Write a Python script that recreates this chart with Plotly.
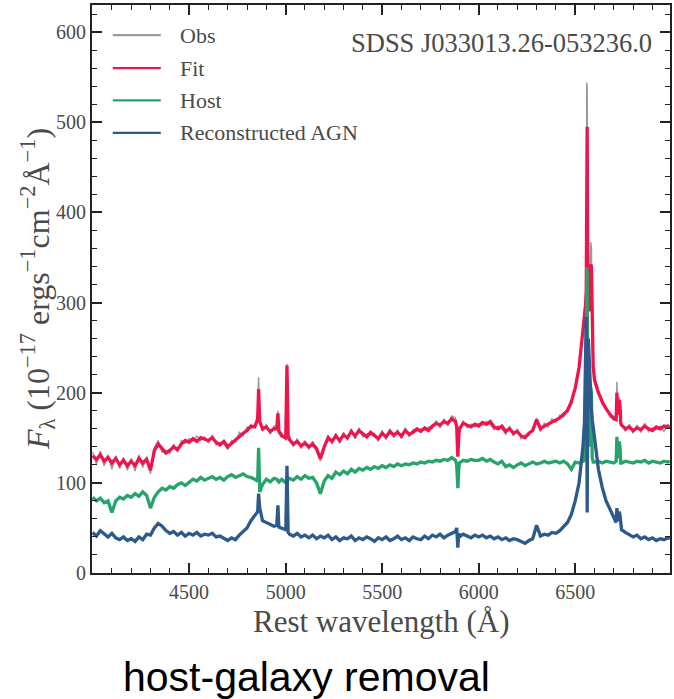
import plotly.graph_objects as go

# Sampled rest-frame spectrum of SDSS J033013.26-053236.0 (flux in 1e-17 erg/s/cm^2/A)
# Continuum grid: 4000-6980 A every 20 A (15 rows x 10 samples)
GRID_START, GRID_STOP, GRID_STEP = 4000, 7000, 20

# Extra samples around narrow emission/absorption features + red end
LINE_WAVE = [4855, 4866, 4954, 4965, 5001, 5007, 5013, 5886, 5892, 5897,
             6548, 6554, 6557, 6562, 6565, 6568, 6573, 6577, 6584, 6588, 6593,
             6712, 6716, 6724, 6728, 6732, 6736, 6990]

obs_grid = [
    134, 121, 135, 119, 131, 115, 130, 116, 128, 114,
    127, 113, 131, 117, 129, 110, 139, 147, 134, 136,
    133, 143, 134, 147, 144, 149, 146, 152, 147, 151,
    144, 153, 142, 145, 143, 137, 147, 145, 156, 152,
    162, 160, 164, 217, 157, 165, 154, 163, 180, 155,
    147, 151, 140, 149, 138, 147, 137, 146, 135, 124,
    137, 153, 143, 155, 144, 156, 147, 160, 149, 161,
    151, 154, 153, 155, 146, 158, 148, 160, 150, 159,
    149, 161, 151, 159, 157, 160, 158, 162, 160, 169,
    161, 171, 163, 174, 172, 157, 169, 161, 165, 162,
    166, 164, 168, 165, 159, 163, 160, 154, 163, 152,
    160, 149, 153, 152, 161, 172, 157, 166, 162, 171,
    167, 175, 173, 183, 187, 208, 225, 272, 544, 367,
    217, 203, 187, 185, 173, 174, 178, 165, 157, 165,
    155, 164, 156, 166, 157, 161, 159, 163, 157, 165,
]
obs_line = [175, 170, 163, 159, 157, 232, 150, 165, 131, 152,
            290, 303, 318, 538, 335, 305, 294, 350, 360, 256, 234,
            172, 212, 181, 195, 190, 168, 160]

fit_grid = [
    130, 126, 131, 124, 128, 122, 127, 120, 125, 119,
    124, 119, 127, 122, 126, 114, 136, 143, 138, 133,
    136, 140, 137, 143, 147, 145, 149, 146, 150, 148,
    147, 150, 145, 142, 146, 140, 144, 148, 152, 155,
    158, 163, 162, 204, 160, 162, 157, 160, 177, 152,
    150, 148, 143, 146, 141, 144, 140, 143, 138, 127,
    140, 150, 146, 152, 147, 153, 150, 157, 152, 158,
    154, 151, 156, 152, 149, 155, 151, 157, 153, 156,
    152, 158, 154, 156, 160, 157, 161, 158, 163, 166,
    164, 168, 166, 171, 168, 160, 166, 164, 162, 165,
    163, 167, 165, 168, 162, 160, 163, 157, 160, 155,
    157, 152, 150, 155, 158, 170, 160, 163, 165, 168,
    170, 172, 176, 180, 190, 205, 228, 268, 495, 342,
    214, 200, 190, 182, 176, 171, 176, 164, 160, 162,
    158, 161, 159, 163, 160, 158, 162, 160, 163, 162,
]
fit_line = [170, 168, 160, 157, 155, 230, 152, 162, 129, 150,
            285, 298, 312, 495, 330, 300, 290, 340, 340, 250, 230,
            170, 200, 180, 192, 186, 166, 163]

host_grid = [
    84, 80, 83, 78, 80, 67, 80, 84, 82, 86,
    84, 88, 85, 90, 86, 72, 84, 90, 94, 92,
    96, 94, 98, 100, 97, 101, 104, 102, 106, 103,
    105, 107, 104, 106, 103, 107, 109, 106, 108, 110,
    107, 106, 104, 139, 98, 104, 101, 105, 102, 104,
    100, 105, 103, 107, 104, 108, 105, 106, 100, 88,
    102, 108, 105, 112, 109, 113, 110, 115, 112, 116,
    114, 117, 115, 118, 116, 119, 117, 120, 118, 121,
    119, 121, 120, 122, 121, 123, 122, 124, 123, 125,
    124, 126, 125, 128, 125, 122, 125, 124, 126, 125,
    125, 127, 124, 126, 123, 121, 124, 118, 120, 117,
    120, 122, 119, 121, 123, 121, 122, 124, 122, 123,
    124, 122, 124, 121, 115, 123, 122, 124, 339, 206,
    123, 124, 122, 124, 123, 122, 128, 122, 124, 123,
    122, 124, 123, 125, 122, 124, 123, 122, 124, 123,
]
host_line = [102, 90, 104, 101, 101, 100, 104, 120, 94, 115,
             125, 150, 135, 330, 190, 150, 140, 165, 200, 128, 123,
             124, 151, 130, 146, 140, 122, 124]

agn_grid = [
    45, 41, 47, 43, 40, 44, 39, 37, 40, 36,
    38, 35, 40, 37, 43, 42, 50, 55, 52, 47,
    44, 46, 42, 45, 41, 44, 42, 45, 41, 43,
    42, 44, 40, 41, 38, 36, 39, 37, 42, 46,
    50, 58, 64, 88, 58, 56, 55, 52, 75, 50,
    48, 43, 41, 44, 40, 42, 39, 42, 38, 41,
    39, 42, 37, 40, 36, 39, 38, 41, 36, 39,
    37, 40, 38, 35, 39, 37, 40, 36, 38, 41,
    37, 39, 36, 40, 38, 37, 41, 38, 42, 40,
    43, 39, 42, 44, 46, 40, 43, 41, 39, 42,
    40, 42, 39, 41, 38, 40, 37, 39, 36, 38,
    37, 35, 33, 36, 38, 53, 41, 43, 42, 45,
    44, 47, 52, 56, 65, 80, 100, 140, 180, 195,
    150, 115, 95, 80, 70, 62, 58, 48, 45, 42,
    40, 42, 38, 40, 37, 39, 36, 38, 37, 39,
]
agn_line = [68, 72, 53, 51, 50, 119, 45, 50, 28, 44,
            168, 230, 284, 67, 200, 260, 235, 205, 180, 170, 160,
            56, 72, 60, 68, 64, 50, 38]

SERIES_NAMES = ["Obs", "Fit", "Host", "Reconstructed AGN"]
SERIES_COLORS = ["#9a9a9a", "#f0144c", "#27a36c", "#2c5a8c"]
SERIES_WIDTHS = [1.5, 3.3, 3.3, 3.3]

X_TICKS = [4500, 5000, 5500, 6000, 6500]
Y_TICKS = [0, 100, 200, 300, 400, 500, 600]
OBJECT_NAME = "SDSS J033013.26-053236.0"


def build(grid_vals, line_vals):
    wave = list(range(GRID_START, GRID_STOP, GRID_STEP)) + LINE_WAVE
    flux = list(grid_vals) + list(line_vals)
    assert len(wave) == len(flux)
    pairs = sorted(zip(wave, flux))
    return [p[0] for p in pairs], [p[1] for p in pairs]


series = [build(obs_grid, obs_line), build(fit_grid, fit_line),
          build(host_grid, host_line), build(agn_grid, agn_line)]

SERIF = "Liberation Serif, Times New Roman, serif"
LABEL_COLOR = "#4a4a4a"
FRAME = "#222222"

fig = go.Figure()
for (w, f), name, col, lw in zip(series, SERIES_NAMES, SERIES_COLORS, SERIES_WIDTHS):
    fig.add_trace(go.Scatter(x=w, y=f, mode="lines", name=name,
                             line=dict(color=col, width=lw), showlegend=False))

axis_common = dict(showgrid=False, zeroline=False, showline=True, linecolor=FRAME,
                   linewidth=2, mirror="allticks", ticks="inside", ticklen=10,
                   tickwidth=1.6, tickcolor=FRAME,
                   tickfont=dict(family=SERIF, size=20, color=LABEL_COLOR))

fig.update_layout(
    width=674, height=699,
    margin=dict(l=92, r=2, t=5, b=126),
    paper_bgcolor="white", plot_bgcolor="white",
    xaxis=dict(range=[3997, 6991], tickvals=X_TICKS,
               minor=dict(tick0=4000, dtick=100, ticks="inside", ticklen=5,
                          tickwidth=1.4, tickcolor=FRAME),
               **axis_common),
    yaxis=dict(range=[0, 630], tickvals=Y_TICKS,
               minor=dict(tick0=0, dtick=20, ticks="inside", ticklen=5,
                          tickwidth=1.4, tickcolor=FRAME),
               **axis_common),
)

# Hand-placed legend (long line samples, no frame)
legend_rows = [0.947, 0.889, 0.832, 0.775]
for name, col, yy in zip(SERIES_NAMES, SERIES_COLORS, legend_rows):
    fig.add_shape(type="line", xref="paper", yref="paper",
                  x0=0.036, x1=0.119, y0=yy, y1=yy,
                  line=dict(color=col, width=2.2))
    fig.add_annotation(xref="paper", yref="paper", x=0.148, y=yy,
                       xanchor="left", yanchor="middle", showarrow=False,
                       text=name, font=dict(family=SERIF, size=22, color=LABEL_COLOR))

fig.add_annotation(xref="paper", yref="paper", x=0.972, y=0.933,
                   xanchor="right", yanchor="middle", showarrow=False,
                   text=OBJECT_NAME, font=dict(family=SERIF, size=26.5, color=LABEL_COLOR))

# Axis titles
fig.add_annotation(xref="paper", yref="paper", x=0.5, y=-0.086,
                   xanchor="center", yanchor="middle", showarrow=False,
                   text="Rest wavelength (Å)",
                   font=dict(family=SERIF, size=31, color=LABEL_COLOR))
fig.add_annotation(xref="paper", yref="paper", x=-0.095, y=0.5,
                   xanchor="center", yanchor="middle", showarrow=False, textangle=-90,
                   text="<i>F</i><sub>λ</sub> (10<sup>−17</sup> ergs<sup>−1</sup>cm<sup>−2</sup>Å<sup>−1</sup>)",
                   font=dict(family=SERIF, size=32, color=LABEL_COLOR))

# Caption
fig.add_annotation(xref="paper", yref="paper", x=0.371, y=-0.183,
                   xanchor="center", yanchor="middle", showarrow=False,
                   text="host-galaxy removal",
                   font=dict(family="Liberation Sans, Arial, sans-serif", size=41, color="black"))

fig.write_html("out.html")
